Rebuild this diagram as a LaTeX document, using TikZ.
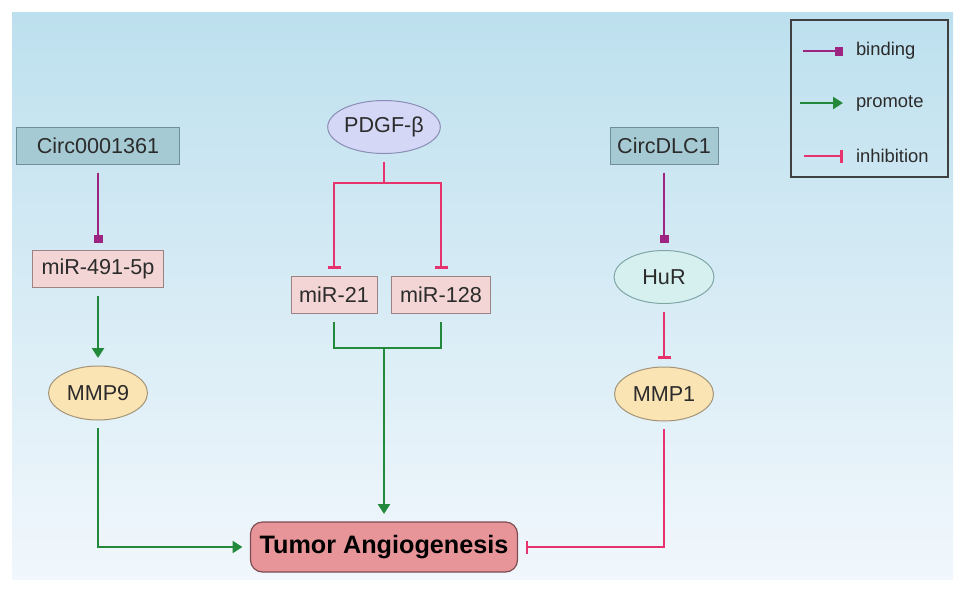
\documentclass[tikz,border=0pt]{standalone}
\usepackage{fontspec}
\setmainfont{Liberation Sans}
\usepackage{xcolor}
\usetikzlibrary{shapes,arrows,positioning,calc,arrows.meta}

\definecolor{bgtop}{HTML}{BDE0EE}
\definecolor{bgbot}{HTML}{F1F7FC}
\definecolor{bindcol}{HTML}{9E2482}
\definecolor{promcol}{HTML}{23893A}
\definecolor{inhcol}{HTML}{E6336E}
\definecolor{txtcol}{HTML}{2B2B2B}
\definecolor{circfill}{HTML}{A6CAD3}
\definecolor{circdraw}{HTML}{6F8F97}
\definecolor{mirfill}{HTML}{F2D5D4}
\definecolor{mirdraw}{HTML}{9C8383}
\definecolor{mmpfill}{HTML}{FBE4B4}
\definecolor{mmpdraw}{HTML}{A39478}
\definecolor{pdgffill}{HTML}{D4D7F5}
\definecolor{pdgfdraw}{HTML}{8A8EB6}
\definecolor{hurfill}{HTML}{D6F0EF}
\definecolor{hurdraw}{HTML}{80A6A6}
\definecolor{tumfill}{HTML}{E8959A}
\definecolor{tumdraw}{HTML}{7C4C50}

\begin{document}
\begin{tikzpicture}[x=0.5pt, y=-0.5pt,
    every node/.style={text=txtcol, font=\fontsize{10.8}{13}\selectfont, inner sep=0pt, outer sep=4pt},
    circbox/.style={rectangle, draw=circdraw, fill=circfill, line width=0.5pt, minimum height=18.5pt},
    mirbox/.style={rectangle, draw=mirdraw, fill=mirfill, line width=0.5pt, minimum height=18.5pt},
    mmp/.style={ellipse, draw=mmpdraw, fill=mmpfill, line width=0.5pt, minimum width=49.5pt, minimum height=27pt},
    tumorbox/.style={rectangle, rounded corners=6pt, draw=tumdraw, fill=tumfill, line width=0.6pt,
        minimum width=133.5pt, minimum height=25pt, font=\fontsize{12.6}{15}\selectfont\bfseries, text=black},
    legtext/.style={anchor=west, inner sep=1.5pt, outer sep=0pt, font=\fontsize{9.2}{11}\selectfont},
    binding/.style={bindcol, line width=1.4pt, -{Square[length=4pt,width=4.5pt]}},
    promote/.style={promcol, line width=1.4pt, -{Triangle[length=5pt,width=6pt]}},
    inhibit/.style={inhcol, line width=1.4pt, -{Bar[width=6.5pt,line width=1.4pt]}},
    plainpink/.style={inhcol, line width=1.4pt},
    plaingreen/.style={promcol, line width=1.4pt}]
    \useasboundingbox (0,0) rectangle (969,590);
    \shade[top color=bgtop, bottom color=bgbot] (12,12) rectangle (953,579);

    % Left branch
    \node[circbox, minimum width=81.5pt] (circA) at (98,146) {Circ0001361};
    \node[mirbox, minimum width=65.5pt] (mirA) at (98,269) {miR-491-5p};
    \node[mmp] (mmp9) at (98,393) {MMP9};

    % Middle branch
    \node[ellipse, draw=pdgfdraw, fill=pdgffill, line width=0.5pt, minimum width=50.5pt, minimum height=26.5pt] (pdgf) at (384,127) {PDGF-β};
    \node[mirbox, minimum width=43pt] (mir21) at (334,295) {miR-21};
    \node[mirbox, minimum width=49.5pt] (mir128) at (441,295) {miR-128};
    \coordinate (split) at (384,183);
    \coordinate (join) at (384,348);

    % Right branch
    \node[circbox, minimum width=54pt] (circB) at (664,146) {CircDLC1};
    \node[ellipse, draw=hurdraw, fill=hurfill, line width=0.5pt, minimum width=50pt, minimum height=26.5pt] (hur) at (664,277) {HuR};
    \node[mmp] (mmp1) at (664,394) {MMP1};

    % Target
    \node[tumorbox] (tumor) at (384,547) {Tumor Angiogenesis};

    % Connectors
    \draw[binding] (circA) -- (mirA);
    \draw[promote] (mirA) -- (mmp9);
    \draw[promote] (mmp9) |- (tumor);

    \draw[plainpink] (pdgf) -- (split);
    \draw[inhibit] (split) -| (mir21);
    \draw[inhibit] (split) -| (mir128);
    \draw[plaingreen] (mir21) |- (join) -| (mir128);
    \draw[promote] (join) -- (tumor);

    \draw[binding] (circB) -- (hur);
    \draw[inhibit] (hur) -- (mmp1);
    \draw[inhibit] (mmp1) |- (tumor);

    % Legend
    \draw[line width=1pt, draw=black!75] (791,20) rectangle (948,177);
    \coordinate (lbs) at (803,51);  \coordinate (lbe) at (843,51);
    \coordinate (lps) at (800,103); \coordinate (lpe) at (843,103);
    \coordinate (lis) at (804,156); \coordinate (lie) at (843,156);
    \node[legtext] (lbind) at (853,51) {binding};
    \node[legtext] (lprom) at (853,103) {promote};
    \node[legtext] (linh) at (853,156) {inhibition};
    \draw[binding] (lbs) -- (lbe);
    \draw[promote] (lps) -- (lpe);
    \draw[inhibit] (lis) -- (lie);
\end{tikzpicture}
\end{document}
